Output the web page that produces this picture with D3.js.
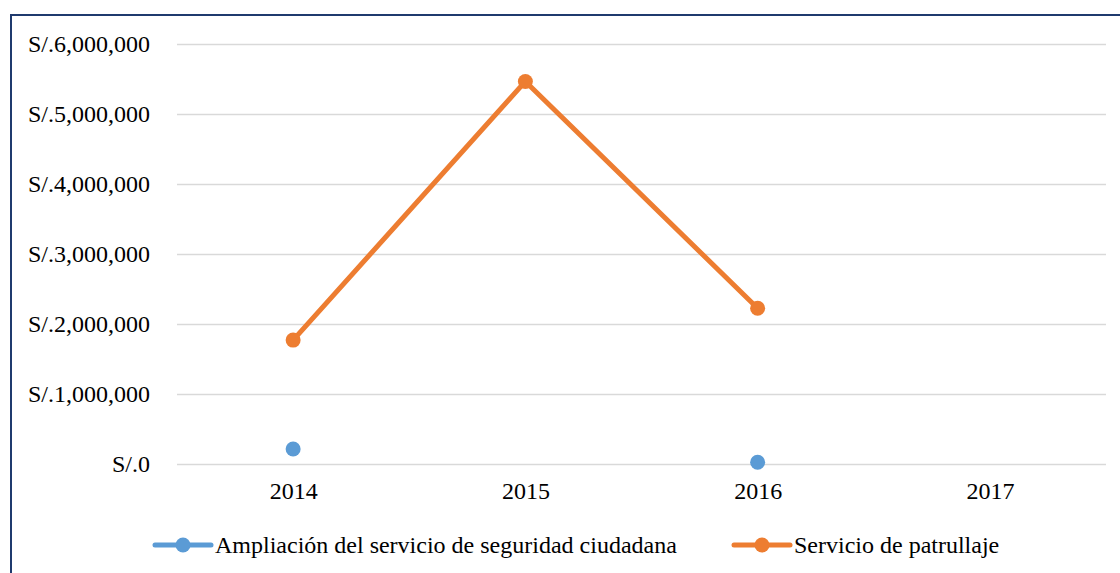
<!DOCTYPE html>
<html><head><meta charset="utf-8">
<script src="https://cdn.jsdelivr.net/npm/d3@7"></script>
<style>html,body{margin:0;padding:0;background:#fff;overflow:hidden}
svg text{font-family:"Liberation Serif","Times New Roman",Tinos,"DejaVu Serif",serif !important;}</style>
</head><body>
<svg id="c" width="1120" height="573"></svg>
<script>
const categories = ["2014", "2015", "2016", "2017"];
const seriesNames = ["Ampliación del servicio de seguridad ciudadana", "Servicio de patrullaje"];
const ampliacion = [215000, null, 25000, null];
const patrullaje = [1770000, 5465000, 2225000, null];
const yTicks = [0, 1000000, 2000000, 3000000, 4000000, 5000000, 6000000];
const colors = ["#5B9BD5", "#ED7D31"];

const svg = d3.select("#c");
const fs = 24;
const L = 177, R = 1106, T = 44, B = 464;

svg.append("rect").attr("x", 0).attr("y", 0).attr("width", 1120).attr("height", 573).attr("fill", "#fff");
svg.append("rect").attr("x", 11).attr("y", 15).attr("width", 1200).attr("height", 700)
  .attr("fill", "none").attr("stroke", "#1F3A6E").attr("stroke-width", 2);

const x = d3.scalePoint().domain(categories).range([L, R]).padding(0.5);
const y = d3.scaleLinear().domain([0, 6000000]).range([B, T]);

const fmt = v => "S/." + (v === 0 ? "0" : d3.format(",")(v));

const yAxis = d3.axisLeft(y).tickValues(yTicks).tickSize(-(R - L)).tickPadding(27).tickFormat(fmt);
const gy = svg.append("g").attr("transform", `translate(${L},0)`).call(yAxis);
gy.select(".domain").remove();
gy.selectAll(".tick line").attr("stroke", "#D9D9D9").attr("stroke-width", 1.3);
gy.selectAll(".tick text").attr("font-size", fs).attr("fill", "#000");

const xAxis = d3.axisBottom(x).tickSize(0).tickPadding(18);
const gx = svg.append("g").attr("transform", `translate(0,${B})`).call(xAxis);
gx.select(".domain").remove();
gx.selectAll(".tick text").attr("font-size", fs).attr("fill", "#000");

const all = [ampliacion, patrullaje];
const line = d3.line().defined(d => d !== null).x((d, i) => x(categories[i])).y(d => y(d));
all.forEach((s, k) => {
  svg.append("path").datum(s).attr("d", line).attr("fill", "none")
    .attr("stroke", colors[k]).attr("stroke-width", 5).attr("stroke-linejoin", "round").attr("stroke-linecap", "round");
  svg.selectAll(null).data(s.map((v, i) => ({v, c: categories[i]})).filter(d => d.v !== null))
    .enter().append("circle").attr("cx", d => x(d.c)).attr("cy", d => y(d.v)).attr("r", 7.5).attr("fill", colors[k]);
});

// legend
const legX = [155, 734];
const ly = 545;
seriesNames.forEach((n, k) => {
  const g = svg.append("g").attr("transform", `translate(${legX[k]},${ly})`);
  g.append("line").attr("x1", 0).attr("x2", 56).attr("y1", 0).attr("y2", 0)
    .attr("stroke", colors[k]).attr("stroke-width", 5).attr("stroke-linecap", "round");
  g.append("circle").attr("cx", 28).attr("cy", 0).attr("r", 7.5).attr("fill", colors[k]);
  g.append("text").attr("x", 60).attr("y", 0).attr("dy", "0.35em")
    .attr("font-size", fs).attr("fill", "#000").text(n);
});
</script>
</body></html>
